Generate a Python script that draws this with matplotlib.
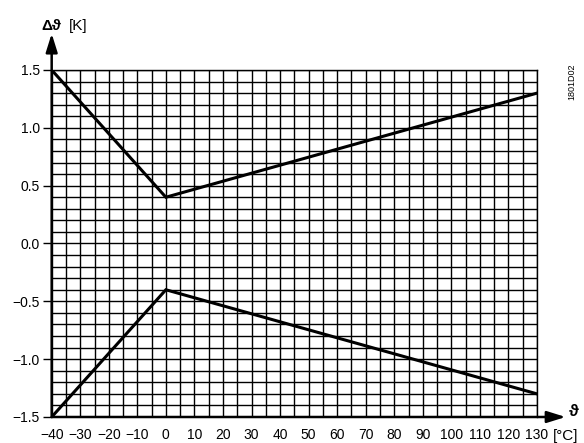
import numpy as np
import matplotlib
matplotlib.use('Agg')
import matplotlib.pyplot as plt
from matplotlib.ticker import MultipleLocator, FuncFormatter

plt.rcParams['font.family'] = ['Liberation Sans', 'DejaVu Sans']

# Kennlinie: Temperatur [°C] gegen Abweichung [K]
temp = [-40, 0, 130]
upper = [1.5, 0.4, 1.3]
lower = [-1.5, -0.4, -1.3]

x_ticks = list(range(-40, 131, 10))
y_ticks = [-1.5, -1.0, -0.5, 0.0, 0.5, 1.0, 1.5]

fig = plt.figure(figsize=(5.84, 4.43), dpi=100)
ax = fig.add_axes([0.0885, 0.0587, 0.831, 0.7833])

ax.set_xlim(-40, 130)
ax.set_ylim(-1.5, 1.5)

# Raster
ax.xaxis.set_major_locator(MultipleLocator(10))
ax.xaxis.set_minor_locator(MultipleLocator(5))
ax.yaxis.set_major_locator(MultipleLocator(0.5))
ax.yaxis.set_minor_locator(MultipleLocator(0.1))
ax.grid(which='both', color='black', linewidth=1.0)
ax.set_axisbelow(True)

ax.set_xticks(x_ticks)
ax.set_yticks(y_ticks)
ax.xaxis.set_major_formatter(FuncFormatter(lambda v, p: f'{int(v)}'.replace('-', '\u2212')))
ax.yaxis.set_major_formatter(FuncFormatter(lambda v, p: f'{v:.1f}'.replace('-', '\u2212')))
ax.tick_params(axis='x', which='both', length=0, pad=8, labelsize=10)
ax.tick_params(axis='y', which='major', length=6.5, width=1, pad=2, labelsize=10)
ax.tick_params(axis='y', which='minor', length=0)

ax.plot(temp, upper, color='black', linewidth=2.2, solid_joinstyle='miter')
ax.plot(temp, lower, color='black', linewidth=2.2, solid_joinstyle='miter')

for s in ['top', 'right']:
    ax.spines[s].set_linewidth(1.0)
for s in ['left', 'bottom']:
    ax.spines[s].set_visible(False)

# Achsen mit Pfeilen
ax.annotate('', xy=(0, 1.105), xytext=(0, 0), xycoords='axes fraction',
            arrowprops=dict(arrowstyle='-|>,head_length=0.8,head_width=0.25', color='black', lw=1.8,
                            mutation_scale=14, shrinkA=0, shrinkB=0))
ax.annotate('', xy=(1.059, 0), xytext=(0, 0), xycoords='axes fraction',
            arrowprops=dict(arrowstyle='-|>,head_length=0.8,head_width=0.25', color='black', lw=1.8,
                            mutation_scale=14, shrinkA=0, shrinkB=0))

fig.text(0.071, 0.942, '\u0394\u03d1', fontsize=11, fontweight='bold', va='center')
fig.text(0.118, 0.942, '[K]', fontsize=11, va='center')
fig.text(0.982, 0.072, '\u03d1', fontsize=12, fontweight='bold', ha='center', va='center')
fig.text(0.969, 0.016, '[\u00b0C]', fontsize=11, ha='center', va='center')
fig.text(0.979, 0.815, '1801D02', fontsize=6.5, rotation=90, ha='center', va='center')

fig.savefig('out.png', dpi=100)
